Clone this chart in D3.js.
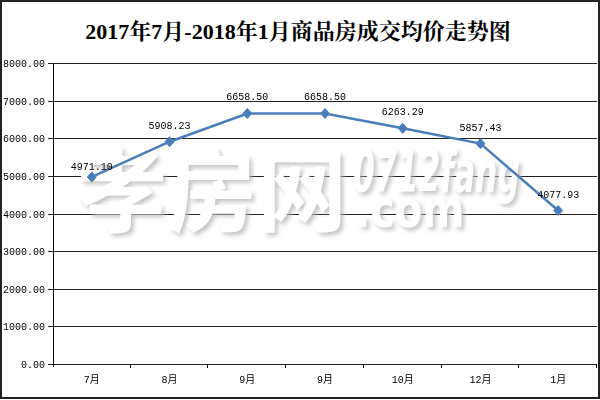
<!DOCTYPE html>
<html><head><meta charset="utf-8">
<script src="https://cdn.jsdelivr.net/npm/d3@7"></script>
<style>body{margin:0;background:#fff}svg{display:block}</style>
</head><body>
<script>
const categories = ["7月","8月","9月","9月","10月","12月","1月"];
const values = [4971.10, 5908.23, 6658.50, 6658.50, 6263.29, 5857.43, 4077.93];
const yTicks = [0,1000,2000,3000,4000,5000,6000,7000,8000];
const title = "2017年7月-2018年1月商品房成交均价走势图";

(function(){
const W=600,H=400;
const svg=d3.select("body").append("svg").attr("width",W).attr("height",H);
const defs=svg.append("defs");
defs.append("filter").attr("id","emboss").attr("x","-10%").attr("y","-20%").attr("width","130%").attr("height","150%")
  .append("feDropShadow").attr("dx",3).attr("dy",3).attr("stdDeviation",2)
  .attr("flood-color","#b8b8b8").attr("flood-opacity",0.8);
svg.append("rect").attr("x",1).attr("y",1).attr("width",W-2).attr("height",H-3)
  .attr("fill","#fff").attr("stroke","#222").attr("stroke-width",2);

const mono="'Liberation Mono','Noto Sans CJK SC',monospace";
const pL=53,pR=597,pT=63,pB=364;
const x=d3.scaleBand().domain(d3.range(categories.length)).range([pL,pR]);
const y=d3.scaleLinear().domain([0,8000]).range([pB,pT]);

svg.append("text").attr("x",298).attr("y",39).attr("text-anchor","middle")
  .attr("font-size",22).attr("font-weight","bold")
  .attr("font-family","'Liberation Serif','Noto Serif CJK SC','Noto Sans CJK SC',serif")
  .text(title);

// grid
svg.append("g").selectAll("line").data(yTicks).join("line")
  .attr("x1",pL-5).attr("x2",pR).attr("y1",d=>Math.round(y(d))+0.5).attr("y2",d=>Math.round(y(d))+0.5)
  .attr("stroke","#222").attr("stroke-width",1);

// watermark (white, embossed shadow)
const wmItems=[
  {t:"孝房网",x:77,y:224,fs:90,sx:1.0,ff:"'Noto Sans CJK SC',sans-serif",st:"normal"},
  {t:"0712fang",x:353,y:192,fs:56,sx:0.56,ff:"'DejaVu Sans',sans-serif",st:"italic"},
  {t:".com",x:355,y:227,fs:52,sx:0.78,ff:"'DejaVu Sans',sans-serif",st:"normal"}
];
svg.append("g").attr("filter","url(#emboss)").selectAll("text").data(wmItems).join("text")
  .attr("transform",w=>`translate(${w.x},${w.y}) scale(${w.sx},1)`)
  .attr("font-size",w=>w.fs).attr("font-weight","bold")
  .attr("font-style",w=>w.st).attr("font-family",w=>w.ff)
  .attr("fill","#fff").text(w=>w.t);

// y axis
svg.append("line").attr("x1",pL+0.5).attr("x2",pL+0.5).attr("y1",pT).attr("y2",pB+3).attr("stroke","#000");
svg.append("g").selectAll("text").data(yTicks).join("text")
  .attr("x",45).attr("y",d=>y(d)+4).attr("text-anchor","end")
  .attr("font-size",10).attr("font-family",mono).attr("fill","#000")
  .text(d=>d3.format(".2f")(d));
// x ticks
const bounds=d3.range(categories.length+1).map(i=>pL+i*x.bandwidth());
svg.append("g").selectAll("line").data(bounds.slice(1)).join("line")
  .attr("x1",d=>Math.round(d)-0.5).attr("x2",d=>Math.round(d)-0.5).attr("y1",pB).attr("y2",pB+4)
  .attr("stroke","#000");
svg.append("g").selectAll("text").data(categories).join("text")
  .attr("x",(d,i)=>x(i)+x.bandwidth()/2).attr("y",pB+19).attr("text-anchor","middle")
  .attr("font-size",10).attr("font-family",mono).text(d=>d);

// line
const cx=i=>x(i)+x.bandwidth()/2;
svg.append("path").datum(values)
  .attr("d",d3.line().x((d,i)=>cx(i)).y(d=>y(d)))
  .attr("fill","none").attr("stroke","#4a7ebb").attr("stroke-width",2.5);
svg.append("g").selectAll("path").data(values).join("path")
  .attr("transform",(d,i)=>`translate(${cx(i)},${y(d)})`)
  .attr("d","M0,-5L4.5,0L0,5L-4.5,0Z")
  .attr("fill","#4a7ebb").attr("stroke","#4a7ebb");
svg.append("g").selectAll("text").data(values).join("text")
  .attr("x",(d,i)=>cx(i)).attr("y",(d,i)=>y(d)-(i===0?7:13)).attr("text-anchor","middle")
  .attr("font-size",10).attr("font-family",mono).attr("fill","#000")
  .text(d=>d3.format(".2f")(d));
})();
</script>
</body></html>
